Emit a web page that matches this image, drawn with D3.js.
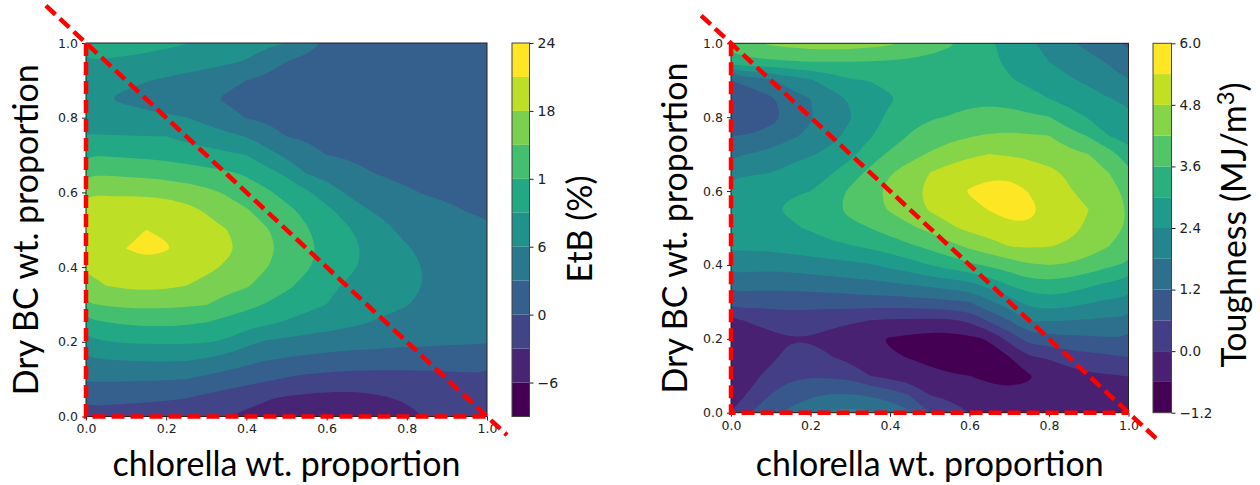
<!DOCTYPE html>
<html>
<head>
<meta charset="utf-8">
<script src="https://cdn.jsdelivr.net/npm/d3@7"></script>
<style>
  body { margin: 0; background: #fff; }
  .tick text { font-family: "DejaVu Sans", sans-serif; fill: #222; }
  .axis-title { font-family: "Lato", sans-serif; fill: #000; }
</style>
</head>
<body>
<script>
// Sample positions of the response-surface grid (chlorella / dry BC proportions)
var gridX = [0, 0.05, 0.1, 0.15, 0.2, 0.25, 0.3, 0.35, 0.4, 0.45, 0.5,
             0.55, 0.6, 0.65, 0.7, 0.75, 0.8, 0.85, 0.9, 0.95, 1.0];
var gridY = [0, 0.05, 0.1, 0.15, 0.2, 0.25, 0.3, 0.35, 0.4, 0.45, 0.5,
             0.55, 0.6, 0.65, 0.7, 0.75, 0.8, 0.85, 0.9, 0.95, 1.0];

// Elongation to break (%), one row per gridY value (bottom row first)
var etbGrid = [
  [-1.0, -1.1, -1.3, -1.5, -1.8, -2.2, -2.6, -2.9, -3.6, -4.4, -5.0, -5.5, -5.8, -5.9, -5.8, -5.2, -3.9, -2.8, -2.4, -2.1, -1.9],
  [0.8, 0.7, 0.6, 0.5, 0.35, 0.1, -0.6, -1.3, -2.0, -2.7, -3.3, -3.6, -3.8, -3.8, -3.6, -3.1, -2.6, -2.2, -1.9, -1.7, -1.6],
  [3.4, 3.4, 3.35, 3.3, 3.2, 3.0, 2.3, 1.6, 1.0, 0.4, -0.3, -0.8, -1.1, -1.3, -1.4, -1.4, -1.3, -1.1, -0.9, -0.7, -0.6],
  [5.6, 5.85, 6.0, 6.15, 6.2, 6.1, 5.5, 4.7, 3.8, 3.0, 2.6, 2.2, 1.9, 1.7, 1.6, 1.5, 1.4, 1.35, 1.3, 1.25, 1.2],
  [8.3, 8.9, 9.2, 9.35, 9.4, 9.35, 9.2, 8.6, 6.8, 5.7, 5.2, 4.8, 4.5, 4.2, 4.0, 3.8, 3.6, 3.5, 3.4, 3.3, 3.2],
  [11.2, 11.8, 12.3, 12.5, 12.5, 12.3, 11.9, 11.1, 10.3, 9.4, 8.6, 7.9, 7.3, 6.6, 6.0, 5.5, 5.0, 4.6, 4.3, 4.0, 3.8],
  [14.7, 15.3, 15.6, 15.7, 15.6, 15.4, 15.1, 13.8, 12.9, 11.8, 10.8, 9.9, 9.0, 8.2, 7.4, 6.7, 6.1, 5.5, 5.0, 4.6, 4.2],
  [17.2, 18.0, 18.5, 18.7, 18.5, 18.0, 17.0, 16.1, 15.3, 13.9, 12.5, 11.2, 9.8, 8.6, 7.9, 7.2, 6.5, 5.9, 5.3, 4.8, 4.4],
  [18.3, 19.1, 19.8, 20.2, 20.1, 19.6, 18.8, 17.6, 16.4, 15.1, 13.8, 12.3, 11.0, 9.7, 8.5, 7.6, 6.7, 5.8, 5.2, 4.8, 4.5],
  [20.3, 20.8, 21.0, 21.7, 21.15, 20.5, 19.6, 18.6, 17.3, 15.7, 14.3, 12.7, 11.3, 10.0, 8.6, 7.3, 6.2, 5.4, 4.9, 4.6, 4.3],
  [20.3, 20.7, 20.95, 21.0, 20.8, 20.2, 19.3, 18.05, 16.6, 15.2, 13.7, 12.2, 10.8, 9.4, 8.0, 6.5, 5.2, 4.6, 4.1, 3.7, 3.4],
  [19.9, 20.2, 20.3, 20.3, 19.9, 19.1, 17.7, 16.4, 15.3, 13.9, 12.7, 11.4, 9.7, 8.0, 6.2, 5.3, 4.6, 4.0, 3.5, 2.95, 2.7],
  [17.6, 17.5, 17.4, 17.3, 17.0, 16.5, 15.7, 14.7, 13.6, 12.5, 11.0, 9.5, 7.5, 5.7, 4.8, 4.1, 3.3, 2.8, 2.5, 2.3, 2.1],
  [14.8, 14.7, 14.5, 14.3, 14.0, 13.5, 13.0, 12.5, 11.7, 10.2, 8.5, 6.0, 5.1, 4.2, 3.2, 2.7, 2.4, 2.15, 1.95, 1.75, 1.6],
  [11.95, 11.8, 11.6, 11.4, 11.1, 10.6, 10.1, 9.6, 9.0, 7.1, 5.4, 4.2, 3.0, 2.7, 2.4, 2.1, 1.9, 1.7, 1.5, 1.35, 1.2],
  [9.2, 9.15, 9.1, 9.05, 9.0, 8.2, 7.5, 6.7, 5.9, 4.5, 3.0, 2.6, 2.3, 2.0, 1.75, 1.55, 1.35, 1.2, 1.05, 0.95, 0.85],
  [7.7, 7.3, 6.9, 6.6, 6.3, 6.05, 5.1, 4.0, 2.9, 2.5, 2.1, 1.8, 1.5, 1.3, 1.1, 1.0, 0.9, 0.8, 0.7, 0.65, 0.6],
  [6.3, 6.05, 5.6, 5.2, 4.8, 4.2, 3.4, 2.7, 2.3, 1.9, 1.6, 1.3, 1.1, 0.95, 0.85, 0.8, 0.7, 0.65, 0.6, 0.55, 0.5],
  [7.0, 6.7, 6.4, 6.1, 5.6, 5.0, 4.3, 3.6, 3.0, 2.4, 1.9, 1.5, 1.3, 1.1, 1.0, 0.9, 0.8, 0.75, 0.7, 0.65, 0.6],
  [8.9, 8.7, 8.5, 8.2, 7.9, 7.5, 7.1, 6.5, 5.8, 4.4, 3.0, 2.3, 1.9, 1.6, 1.4, 1.3, 1.2, 1.1, 1.0, 0.95, 0.9],
  [10.6, 10.4, 10.2, 9.9, 9.5, 9.1, 8.5, 7.9, 7.3, 6.6, 6.0, 4.1, 2.8, 2.4, 2.1, 1.9, 1.8, 1.7, 1.5, 1.35, 1.2]
];
var etbLevels = [-9, -6, -3, 0, 3, 6, 9, 12, 15, 18, 21, 24];
var etbTicks = [-6, 0, 6, 12, 18, 24];
var etbTickLabels = ["\u22126", "0", "6", "1", "18", "24"];

// Toughness (MJ/m3), same layout
var toughGrid = [
  [0.0, 0.6, 1.0, 1.35, 1.7, 1.9, 2.0, 1.9, 1.7, 1.3, 0.6, 0.3, 0.0, -0.2, -0.3, -0.35, -0.4, -0.4, -0.4, -0.4, -0.4],
  [-0.15, 0.05, 0.6, 0.88, 1.1, 1.2, 1.2, 1.1, 0.9, 0.55, -0.03, -0.15, -0.3, -0.45, -0.5, -0.5, -0.45, -0.4, -0.35, -0.3, -0.25],
  [-0.28, -0.12, 0.15, 0.5, 0.55, 0.5, 0.43, 0.0, -0.2, -0.35, -0.45, -0.55, -0.6, -0.7, -0.75, -0.65, -0.4, -0.25, -0.1, -0.05, 0.02],
  [-0.3, -0.25, -0.12, 0.2, 0.2, 0.03, -0.2, -0.35, -0.55, -0.62, -0.75, -0.85, -0.85, -0.8, -0.62, -0.05, 0.05, 0.3, 0.42, 0.5, 0.6],
  [-0.3, -0.25, -0.15, -0.03, -0.05, -0.2, -0.35, -0.5, -0.65, -0.75, -0.85, -0.85, -0.75, -0.55, 0.2, 0.85, 0.96, 1.05, 1.1, 1.15, 1.15],
  [-0.1, 0.05, 0.2, 0.35, 0.3, 0.19, 0.09, 0.0, -0.08, -0.08, -0.1, -0.08, 0.12, 0.7, 1.2, 1.86, 1.85, 1.8, 1.75, 1.7, 1.7],
  [0.89, 0.86, 0.84, 0.82, 0.82, 0.86, 0.9, 0.91, 0.92, 0.96, 1.0, 1.1, 1.2, 1.7, 2.15, 2.6, 2.75, 2.65, 2.45, 2.3, 2.25],
  [1.45, 1.44, 1.43, 1.47, 1.5, 1.55, 1.6, 1.68, 1.75, 1.86, 2.0, 2.15, 2.3, 2.65, 3.1, 3.4, 3.45, 3.35, 3.15, 2.95, 2.8],
  [2.07, 2.02, 1.99, 2.03, 2.1, 2.18, 2.27, 2.35, 2.55, 2.75, 3.0, 3.25, 3.5, 3.7, 3.9, 4.15, 4.2, 4.15, 3.95, 3.7, 3.5],
  [2.5, 2.52, 2.55, 2.65, 2.75, 2.85, 2.95, 3.1, 3.3, 3.5, 3.75, 4.0, 4.3, 4.55, 4.8, 4.85, 4.82, 4.7, 4.5, 4.2, 3.95],
  [2.8, 2.85, 2.9, 2.95, 3.05, 3.3, 3.45, 3.6, 3.85, 4.1, 4.35, 4.7, 4.95, 5.1, 5.3, 5.35, 5.2, 5.0, 4.7, 4.4, 4.15],
  [2.9, 2.93, 2.97, 3.05, 3.25, 3.45, 3.75, 4.0, 4.25, 4.55, 4.85, 5.05, 5.25, 5.42, 5.55, 5.5, 5.3, 5.05, 4.8, 4.45, 4.15],
  [2.8, 2.85, 2.92, 2.97, 3.0, 3.3, 3.7, 4.05, 4.35, 4.65, 4.95, 5.15, 5.45, 5.6, 5.65, 5.38, 5.2, 4.85, 4.6, 4.35, 4.1],
  [2.2, 2.3, 2.4, 2.6, 2.75, 2.95, 3.3, 3.75, 4.15, 4.47, 4.8, 5.0, 5.15, 5.25, 5.25, 5.15, 4.95, 4.7, 4.45, 4.2, 3.7],
  [1.7, 1.82, 1.95, 2.15, 2.35, 2.55, 2.85, 3.3, 3.7, 4.0, 4.25, 4.55, 4.7, 4.8, 4.75, 4.65, 4.5, 4.35, 4.2, 3.85, 3.3],
  [1.18, 1.25, 1.45, 1.7, 1.9, 2.2, 2.55, 2.95, 3.25, 3.63, 3.85, 4.0, 4.15, 4.25, 4.3, 4.25, 4.2, 3.85, 3.55, 3.0, 2.75],
  [0.68, 0.75, 0.95, 1.4, 1.75, 2.05, 2.37, 2.8, 3.1, 3.45, 3.55, 3.62, 3.7, 3.75, 3.75, 3.7, 3.62, 3.25, 2.95, 2.7, 2.5],
  [0.75, 0.85, 1.1, 1.5, 1.8, 2.15, 2.45, 2.7, 2.95, 3.15, 3.3, 3.45, 3.5, 3.5, 3.45, 3.25, 3.0, 2.8, 2.6, 2.42, 2.3],
  [1.2, 1.45, 1.71, 2.1, 2.33, 2.67, 2.95, 3.02, 3.1, 3.25, 3.35, 3.4, 3.35, 3.2, 3.05, 2.85, 2.65, 2.47, 2.3, 2.0, 1.8],
  [3.36, 3.45, 3.5, 3.55, 3.6, 3.6, 3.6, 3.58, 3.55, 3.5, 3.45, 3.38, 3.3, 3.1, 2.9, 2.65, 2.4, 2.2, 2.0, 1.75, 1.6],
  [3.85, 4.1, 4.3, 4.4, 4.48, 4.5, 4.48, 4.4, 4.28, 4.05, 3.85, 3.67, 3.4, 3.1, 2.8, 2.5, 2.2, 1.9, 1.6, 1.3, 1.1]
];
var toughLevels = [-1.2, -0.6, 0, 0.6, 1.2, 1.8, 2.4, 3.0, 3.6, 4.2, 4.8, 5.4, 6.0];
var toughTicks = [-1.2, 0, 1.2, 2.4, 3.6, 4.8, 6.0];
var toughTickLabels = ["\u22121.2", "0.0", "1.2", "2.4", "3.6", "4.8", "6.0"];

var axisTicks = [0, 0.2, 0.4, 0.6, 0.8, 1.0];
var axisTickLabels = ["0.0", "0.2", "0.4", "0.6", "0.8", "1.0"];

// Mixture constraint x + y <= 1, drawn as a dashed triangle
var etbDiagonal = [[-0.1, 1.1], [1.05, -0.05]];
var toughDiagonal = [[-0.075, 1.075], [1.08, -0.08]];
var triangleEdges = [[0, 1], [0, 0], [1, 0]];

var svg = d3.select("body")
  .append("svg")
  .attr("width", 1260)
  .attr("height", 485);

function drawPanel(p) {
  var g = svg.append("g");

  var x = d3.scaleLinear().domain([0, 1]).range([p.left, p.right]);
  var y = d3.scaleLinear().domain([0, 1]).range([p.bottom, p.top]);

  // contour grid coordinates -> pixels (sample i sits at i + 0.5)
  var nx = gridX.length, ny = gridY.length;
  var posX = d3.scaleLinear().domain([0.5, nx - 0.5]).range([x(gridX[0]), x(gridX[nx - 1])]);
  var posY = d3.scaleLinear().domain([0.5, ny - 0.5]).range([y(gridY[0]), y(gridY[ny - 1])]);

  var values = [];
  p.grid.forEach(function(row) { row.forEach(function(v) { values.push(v); }); });

  var bands = d3.contours()
    .size([nx, ny])
    .thresholds(p.levels.slice(0, -1))(values);

  var color = d3.scaleSequential(d3.interpolateViridis).domain([0, p.levels.length - 2]);

  // B-spline through the marching-squares vertices rounds off the grid kinks
  var ring = d3.line()
    .x(function(d) { return posX(d[0]); })
    .y(function(d) { return posY(d[1]); })
    .curve(d3.curveBasisClosed);

  var clipId = "clip-" + p.id;
  svg.append("clipPath").attr("id", clipId)
    .append("rect")
    .attr("x", p.left).attr("y", p.top)
    .attr("width", p.right - p.left).attr("height", p.bottom - p.top);

  var fills = g.append("g").attr("clip-path", "url(#" + clipId + ")");

  // lowest band as a backing so no gap shows along the frame
  fills.append("rect")
    .attr("x", p.left).attr("y", p.top)
    .attr("width", p.right - p.left).attr("height", p.bottom - p.top)
    .attr("fill", color(0));

  fills.selectAll("path")
    .data(bands)
    .enter()
    .append("path")
    .attr("fill", function(d, i) { return color(i); })
    .attr("fill-rule", "evenodd")
    .attr("d", function(d) {
      var s = "";
      d.coordinates.forEach(function(poly) {
        poly.forEach(function(r) { s += ring(r.slice(0, -1)); });
      });
      return s;
    });

  // axes
  var bottomAxis = d3.axisBottom(x).tickValues(axisTicks)
    .tickFormat(function(d, i) { return axisTickLabels[i]; })
    .tickSize(4).tickPadding(4);
  var leftAxis = d3.axisLeft(y).tickValues(axisTicks)
    .tickFormat(function(d, i) { return axisTickLabels[i]; })
    .tickSize(4).tickPadding(4);

  var xa = g.append("g").attr("transform", "translate(0," + p.bottom + ")").call(bottomAxis);
  var ya = g.append("g").attr("transform", "translate(" + p.left + ",0)").call(leftAxis);
  [xa, ya].forEach(function(a) {
    a.select(".domain").remove();
    a.selectAll(".tick line").attr("stroke", "#222");
    a.selectAll(".tick text").style("font-size", "12.5px");
  });

  g.append("rect")
    .attr("x", p.left).attr("y", p.top)
    .attr("width", p.right - p.left).attr("height", p.bottom - p.top)
    .attr("fill", "none").attr("stroke", "#222").attr("stroke-width", 1);

  // colorbar
  var yc = d3.scaleLinear()
    .domain([p.levels[0], p.levels[p.levels.length - 1]])
    .range([p.bottom, p.top]);

  g.append("g").selectAll("rect")
    .data(p.levels.slice(0, -1))
    .enter()
    .append("rect")
    .attr("x", p.cbLeft)
    .attr("width", p.cbRight - p.cbLeft)
    .attr("y", function(d, i) { return yc(p.levels[i + 1]); })
    .attr("height", function(d, i) { return yc(p.levels[i]) - yc(p.levels[i + 1]); })
    .attr("fill", function(d, i) { return color(i); });

  var cbAxis = d3.axisRight(yc).tickValues(p.ticks)
    .tickFormat(function(d, i) { return p.tickLabels[i]; })
    .tickSize(4).tickPadding(4);
  var ca = g.append("g").attr("transform", "translate(" + p.cbRight + ",0)").call(cbAxis);
  ca.select(".domain").remove();
  ca.selectAll(".tick line").attr("stroke", "#222");
  ca.selectAll(".tick text").style("font-size", p.cbFont + "px");

  g.append("rect")
    .attr("x", p.cbLeft).attr("y", p.top)
    .attr("width", p.cbRight - p.cbLeft).attr("height", p.bottom - p.top)
    .attr("fill", "none").attr("stroke", "#444").attr("stroke-width", 1);

  // dashed constraint triangle
  var line = d3.line()
    .x(function(d) { return x(d[0]); })
    .y(function(d) { return y(d[1]); });

  [p.diagonal, triangleEdges].forEach(function(pts) {
    g.append("path")
      .attr("d", line(pts))
      .attr("fill", "none")
      .attr("stroke", "#ff0000")
      .attr("stroke-width", 4.5)
      .attr("stroke-dasharray", "13,6");
  });

  // titles
  g.append("text")
    .attr("class", "axis-title")
    .attr("x", (p.left + p.right) / 2)
    .attr("y", p.xLabelY)
    .attr("text-anchor", "middle")
    .style("font-size", titleSize + "px")
    .text("chlorella wt. proportion");

  g.append("text")
    .attr("class", "axis-title")
    .attr("transform", "translate(" + p.yLabelX + "," + (p.top + p.bottom) / 2 + ") rotate(-90)")
    .attr("text-anchor", "middle")
    .style("font-size", titleSize + "px")
    .text("Dry BC wt. proportion");

  var cbt = g.append("text")
    .attr("class", "axis-title")
    .attr("transform", "translate(" + p.cbLabelX + "," + p.cbLabelY + ") rotate(-90)")
    .attr("text-anchor", "middle")
    .style("font-size", titleSize + "px");
  p.cbLabel(cbt);
}

// font size for the titles, sized so the x title spans 348px
var titleSize = (function() {
  var t = svg.append("text").attr("class", "axis-title").style("font-size", "30px")
    .text("chlorella wt. proportion");
  var w = t.node().getComputedTextLength();
  t.remove();
  return 30 * 348 / w;
})();

drawPanel({
  id: "etb",
  left: 86, right: 487, top: 43, bottom: 416.5,
  cbLeft: 512, cbRight: 529.5, cbFont: 14,
  grid: etbGrid, levels: etbLevels, ticks: etbTicks, tickLabels: etbTickLabels,
  diagonal: etbDiagonal,
  xLabelY: 476, yLabelX: 38,
  cbLabelX: 592, cbLabelY: 229,
  cbLabel: function(t) { t.text("EtB (%)"); }
});

drawPanel({
  id: "tough",
  left: 731, right: 1128.5, top: 43.3, bottom: 412.7,
  cbLeft: 1153, cbRight: 1171.5, cbFont: 13.5,
  grid: toughGrid, levels: toughLevels, ticks: toughTicks, tickLabels: toughTickLabels,
  diagonal: toughDiagonal,
  xLabelY: 476, yLabelX: 687,
  cbLabelX: 1246, cbLabelY: 225,
  cbLabel: function(t) {
    t.append("tspan").text("Toughness (MJ/m");
    t.append("tspan").attr("dy", "-0.5em").style("font-size", "0.7em").text("3");
    t.append("tspan").attr("dy", "0.35em").text(")");
  }
});
</script>
</body>
</html>
